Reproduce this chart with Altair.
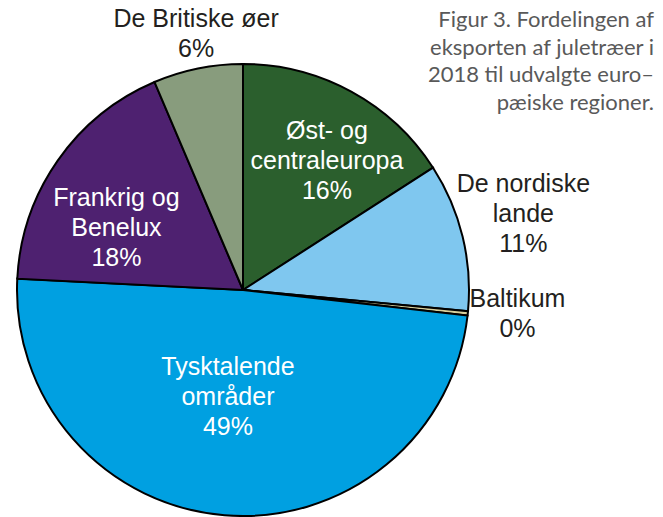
import math
import altair as alt
import pandas as pd

# ---- data ----
regions = ["Øst- og centraleuropa", "De nordiske lande", "Baltikum",
           "Tysktalende områder", "Frankrig og Benelux", "De Britiske øer"]
shares = [15.9, 10.6, 0.3, 49.0, 17.8, 6.4]
pct_labels = ["16%", "11%", "0%", "49%", "18%", "6%"]
name_lines = ["Øst- og\ncentraleuropa", "De nordiske\nlande", "Baltikum",
              "Tysktalende\nområder", "Frankrig og\nBenelux", "De Britiske øer"]
colors = ["#2b5f2d", "#7fc7ef", "#d8cf9c", "#00a0e1", "#4e2170", "#889c7d"]
title_lines = ["Figur 3. Fordelingen af", "eksporten af juletræer i",
               "2018 til udvalgte euro–", "pæiske regioner."]

df = pd.DataFrame({
    "region": regions,
    "share": shares,
    "order": list(range(len(regions))),
    "label": [n + "\n" + p for n, p in zip(name_lines, pct_labels)],
})

# ---- layout / style ----
CX, CY, R = 235, 282, 226
W, H = 647, 509

base = alt.Chart(df)

pie = base.mark_arc(radius=R, stroke="black", strokeWidth=2).encode(
    theta=alt.Theta("share:Q", stack=True),
    color=alt.Color("region:N", scale=alt.Scale(domain=regions, range=colors), legend=None),
    order=alt.Order("order:Q"),
    x=alt.value(CX), y=alt.value(CY),
)

lab = base.transform_window(
    cum="sum(share)", sort=[alt.SortField("order")], frame=[None, 0]
).transform_calculate(mid="datum.cum - datum.share / 2")

# (region, radius of first-line baseline, theta offset in degrees, text colour)
label_style = [
    ("Øst- og centraleuropa", 173, 0.4, "white"),
    ("De nordiske lande", 297, -5.6, "#231f20"),
    ("Baltikum", 275, -2.4, "#231f20"),
    ("Tysktalende områder", 86, 5.4, "white"),
    ("Frankrig og Benelux", 152, -1.3, "white"),
    ("De Britiske øer", 267, 1.4, "#231f20"),
]

layers = [pie]
for name, r, toff, col in label_style:
    layers.append(
        lab.transform_filter(alt.datum.region == name).mark_text(
            radius=r, thetaOffset=math.radians(toff), font="Liberation Sans",
            fontSize=25, lineBreak="\n", lineHeight=30, color=col,
            align="center", baseline="alphabetic",
        ).encode(
            theta=alt.Theta("mid:Q", stack=None, scale=alt.Scale(domain=[0, 100])),
            text="label:N",
            x=alt.value(CX), y=alt.value(CY),
        )
    )

title = alt.Chart(alt.Data(values=[{}])).mark_text(
    text=title_lines, font="Lato", fontSize=22, lineHeight=27.7,
    color="#595959", align="right", baseline="alphabetic",
).encode(x=alt.value(646), y=alt.value(19))
layers.append(title)

chart = alt.layer(*layers).resolve_scale(theta="independent").properties(
    width=W, height=H, padding=0, autosize=alt.AutoSizeParams(type="none"),
    background="white",
).configure_view(stroke=None)

chart.save("out.html", embed_options={"renderer": "svg", "actions": False})
